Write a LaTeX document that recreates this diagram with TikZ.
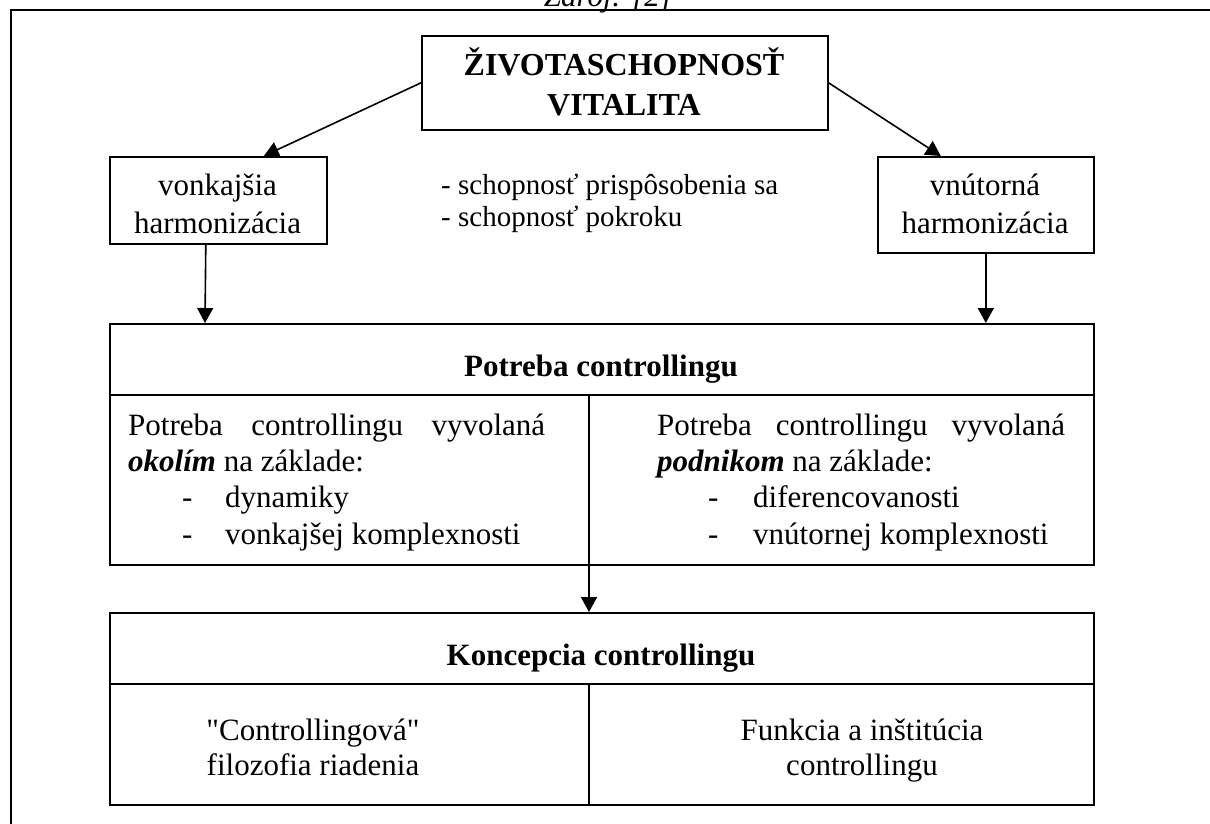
\documentclass[tikz,border=0pt]{standalone}
\usepackage{fontspec}
\setmainfont{Liberation Serif}
\newfontfamily\rawserif{Liberation Serif}[Ligatures=ResetAll]
\usetikzlibrary{arrows.meta,calc}
\begin{document}
\begin{tikzpicture}[x=1pt,y=-1pt,
  box/.style={draw, line width=1.6pt, inner sep=0pt, anchor=north west},
  divider/.style={line width=1.6pt},
  frame/.style={line width=2.4pt},
  arr/.style={line width=1.6pt, -{Triangle[width=16pt,length=15pt]}},
  txt/.style={font=\fontsize{31}{37}\selectfont, inner sep=0pt, anchor=base},
  txtl/.style={txt, anchor=base west},
  head/.style={txt, font=\fontsize{31}{37}\selectfont\bfseries},
  ttl/.style={txt, font=\fontsize{32}{38}\selectfont\bfseries},
  note/.style={txtl, font=\fontsize{29}{35}\selectfont},
]
\useasboundingbox (0,0) rectangle (1210,823);
\clip (0,0) rectangle (1210,823);

% cut-off source line and outer frame
\node[txt, font=\fontsize{31}{37}\selectfont\itshape] (src) at (608,6) {Zdroj: [2]};
\draw[frame] (1212,10) -- (11,10) -- (11,825);

% top box
\node[box, minimum width=406pt, minimum height=94pt] (top) at (421,35) {};
\node[ttl] (t1) at (624,75) {ŽIVOTASCHOPNOSŤ};
\node[ttl] (t2) at (624,115) {VITALITA};

% side boxes
\node[box, minimum width=217pt, minimum height=87pt] (lbox) at (109,156) {};
\node[txt] (l1) at (217.5,195) {vonkajšia};
\node[txt] (l2) at (217.5,233) {harmonizácia};

\node[box, minimum width=216pt, minimum height=96pt] (rbox) at (877,156) {};
\node[txt] (r1) at (985,195) {vnútorná};
\node[txt] (r2) at (985,233) {harmonizácia};

% middle note
\node[note] (n1) at (441,194) {- schopnosť prispôsobenia sa};
\node[note] (n2) at (441,226) {- schopnosť pokroku};

% Potreba controllingu
\node[box, minimum width=984pt, minimum height=241pt] (pot) at (109,323) {};
\coordinate (potdl) at (109,395);
\coordinate (potdr) at (1093,395);
\coordinate (potmid) at (589,395);
\draw[divider] (potdl) -- (potdr);
\draw[divider] (potmid) -- (potmid |- pot.south);
\node[head] (ph) at (601,376) {Potreba controllingu};

\node[txtl] (pl1) at (128,435) {\hbox to 417pt{Potreba\hfill controllingu\hfill vyvolaná}};
\node[txtl] (pl2) at (128,471) {\textbf{\textit{okolím}} na základe:};
\node[txtl] (pl3a) at (182,507) {-};
\node[txtl] (pl3) at (225,507) {dynamiky};
\node[txtl] (pl4a) at (182,544) {-};
\node[txtl] (pl4) at (225,544) {vonkajšej komplexnosti};

\node[txtl] (pr1) at (657,435) {\hbox to 408pt{Potreba\hfill controllingu\hfill vyvolaná}};
\node[txtl] (pr2) at (657,471) {\textbf{\textit{podnikom}} na základe:};
\node[txtl] (pr3a) at (708,507) {-};
\node[txtl] (pr3) at (753,507) {diferencovanosti};
\node[txtl] (pr4a) at (708,544) {-};
\node[txtl] (pr4) at (753,544) {vnútornej komplexnosti};

% Koncepcia controllingu
\node[box, minimum width=984pt, minimum height=192pt] (kon) at (109,612) {};
\coordinate (kondl) at (109,684);
\coordinate (kondr) at (1093,684);
\coordinate (konmid) at (589,684);
\draw[divider] (kondl) -- (kondr);
\draw[divider] (konmid) -- (konmid |- kon.south);
\node[head] (kh) at (601,665) {Koncepcia controllingu};

\node[txt] (kl1) at (313,740) {{\rawserif\char34}Controllingová{\rawserif\char34}};
\node[txt] (kl2) at (313,775) {filozofia riadenia};
\node[txt] (kr1) at (862,740) {Funkcia a inštitúcia};
\node[txt] (kr2) at (862,775) {controllingu};

% connectors
\draw[arr] (top.west) -- ($(lbox.north)+(45.5,0)$);
\draw[arr] (top.east) -- ($(rbox.north)+(-45,0)$);
\draw[arr] ($(lbox.south)+(-12.5,0)$) -- ($(pot.north west)+(96,0)$);
\draw[arr] (rbox.south) -- (rbox.south |- pot.north);
\draw[arr] (potmid |- pot.south) -- (potmid |- kon.north);
\end{tikzpicture}
\end{document}
